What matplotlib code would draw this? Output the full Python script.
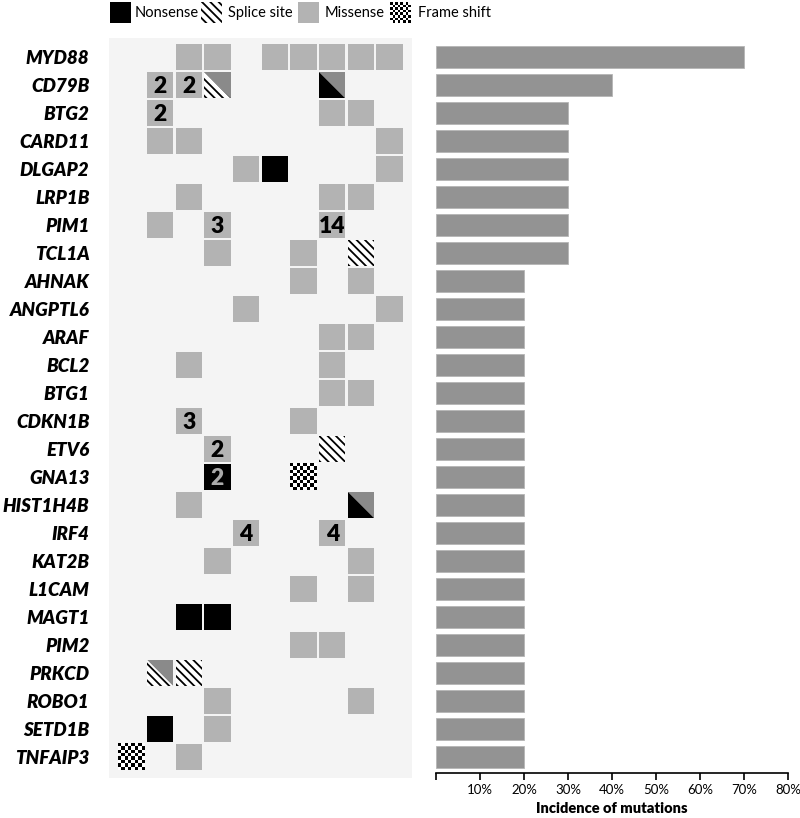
import matplotlib.pyplot as plt
from matplotlib.patches import Rectangle, Polygon
import numpy as np

plt.rcParams['font.family'] = ['Lato', 'DejaVu Sans']
plt.rcParams['hatch.linewidth'] = 1.3

genes = ["MYD88", "CD79B", "BTG2", "CARD11", "DLGAP2", "LRP1B", "PIM1", "TCL1A",
         "AHNAK", "ANGPTL6", "ARAF", "BCL2", "BTG1", "CDKN1B", "ETV6", "GNA13",
         "HIST1H4B", "IRF4", "KAT2B", "L1CAM", "MAGT1", "PIM2", "PRKCD", "ROBO1",
         "SETD1B", "TNFAIP3"]

# one string per gene, one char per sample:
# M missense, N nonsense, S splice site, F frame shift,
# n nonsense + missense, s splice site + missense, . none
calls = [
    "..MM.MMMMM",  # MYD88
    ".MMs...n..",  # CD79B
    ".M.....MM.",  # BTG2
    ".MM......M",  # CARD11
    "....MN...M",  # DLGAP2
    "..M....MM.",  # LRP1B
    ".M.M...M..",  # PIM1
    "...M..M.S.",  # TCL1A
    "......M.M.",  # AHNAK
    "....M....M",  # ANGPTL6
    ".......MM.",  # ARAF
    "..M....M..",  # BCL2
    ".......MM.",  # BTG1
    "..M...M...",  # CDKN1B
    "...M...S..",  # ETV6
    "...N..F...",  # GNA13
    "..M.....n.",  # HIST1H4B
    "....M..M..",  # IRF4
    "...M....M.",  # KAT2B
    "......M.M.",  # L1CAM
    "..NN......",  # MAGT1
    "......MM..",  # PIM2
    ".sS.......",  # PRKCD
    "...M....M.",  # ROBO1
    ".N.M......",  # SETD1B
    "F.M.......",  # TNFAIP3
]

# number of mutations in a cell (gene, sample index, count)
counts = [("CD79B", 1, 2), ("CD79B", 2, 2), ("BTG2", 1, 2), ("PIM1", 3, 3),
          ("PIM1", 7, 14), ("CDKN1B", 2, 3), ("ETV6", 3, 2), ("GNA13", 3, 2),
          ("IRF4", 4, 4), ("IRF4", 7, 4)]

incidence = [70, 40, 30, 30, 30, 30, 30, 30, 20, 20, 20, 20, 20, 20, 20, 20,
             20, 20, 20, 20, 20, 20, 20, 20, 20, 20]

MISS = '#b3b3b3'
HALF = '#8a8a8a'
HATCH = '\\\\\\\\'

W, H = 800, 818


def px(x0, y0, x1, y1):
    return [x0 / W, 1 - y1 / H, (x1 - x0) / W, (y1 - y0) / H]


checker = np.indices((8, 8)).sum(axis=0) % 2

fig = plt.figure(figsize=(8, 8.18), dpi=100)

# ---- mutation grid ----
ax = fig.add_axes(px(109, 38, 412, 778))
ax.set_facecolor('#f4f4f4')
cw, ch = 0.46, 0.465
for r, row in enumerate(calls):
    for c, code in enumerate(row):
        x0, x1 = c - cw, c + cw
        yt, yb = r - ch, r + ch
        if code == 'M':
            ax.add_patch(Rectangle((x0, yt), 2 * cw, 2 * ch, fc=MISS, lw=0))
        elif code == 'N':
            ax.add_patch(Rectangle((x0, yt), 2 * cw, 2 * ch, fc='black', lw=0))
        elif code == 'S':
            ax.add_patch(Rectangle((x0, yt), 2 * cw, 2 * ch, fc='white',
                                   ec='black', hatch=HATCH, lw=0))
        elif code == 'F':
            ax.imshow(checker, cmap='gray', extent=(x0, x1, yb, yt),
                      interpolation='nearest', aspect='auto')
        elif code in 'ns':
            ax.add_patch(Polygon([(x0, yt), (x1, yt), (x1, yb)], fc=HALF, lw=0))
            if code == 'n':
                ax.add_patch(Polygon([(x0, yt), (x0, yb), (x1, yb)],
                                     fc='black', lw=0))
            else:
                ax.add_patch(Polygon([(x0, yt), (x0, yb), (x1, yb)], fc='white',
                                     ec='black', hatch=HATCH, lw=0))

for g, c, n in counts:
    r = genes.index(g)
    col = '#aaaaaa' if calls[r][c] == 'N' else 'black'
    ax.text(c, r + 0.05, str(n), ha='center', va='center', fontsize=16.5,
            fontweight='heavy', color=col)

ax.set_xlim(-0.78, 9.78)
ax.set_ylim(25.75, -0.68)
ax.set_xticks([])
ax.set_yticks(range(len(genes)))
ax.set_yticklabels(genes, fontsize=13.5, fontweight='heavy', fontstyle='italic')
ax.tick_params(axis='y', length=0, pad=14)
for s in ax.spines.values():
    s.set_visible(False)

# ---- incidence bars ----
ax2 = fig.add_axes(px(436, 38, 788, 773))
ax2.barh(range(len(genes)), incidence, height=0.8, color='#939393',
         edgecolor='#b5b5b5', lw=0.6)
ax2.set_xlim(0, 80)
ax2.set_ylim(25.57, -0.68)
ax2.set_yticks([])
ticks = list(range(0, 81, 10))
ax2.set_xticks(ticks)
ax2.set_xticklabels([''] + [f'{t}%' for t in ticks[1:]], fontsize=9.5)
ax2.tick_params(axis='x', length=5, width=1.2, pad=3)
ax2.set_xlabel('Incidence of mutations', fontsize=10.5, fontweight='heavy',
               labelpad=4)
for k in ['top', 'right', 'left']:
    ax2.spines[k].set_visible(False)
ax2.spines['bottom'].set_linewidth(1.2)

# ---- legend ----
lg = fig.add_axes([0, 1 - 28 / H, 1, 28 / H])
lg.axis('off')
sq = 21
lg.add_patch(Rectangle((110, 2), sq, sq, fc='black', lw=0))
lg.text(135, 13, 'Nonsense', va='center', fontsize=10.5)
lg.add_patch(Rectangle((201, 2), sq, sq, fc='white', ec='black', hatch=HATCH, lw=0))
lg.text(228, 13, 'Splice site', va='center', fontsize=10.5)
lg.add_patch(Rectangle((298, 2), sq, sq, fc=MISS, lw=0))
lg.text(325, 13, 'Missense', va='center', fontsize=10.5)
lg.imshow(checker, cmap='gray', extent=(390, 411, 23, 2),
          interpolation='nearest', aspect='auto')
lg.text(418, 13, 'Frame shift', va='center', fontsize=10.5)
lg.set_xlim(0, W)
lg.set_ylim(28, 0)

fig.savefig('out.png', dpi=100)
